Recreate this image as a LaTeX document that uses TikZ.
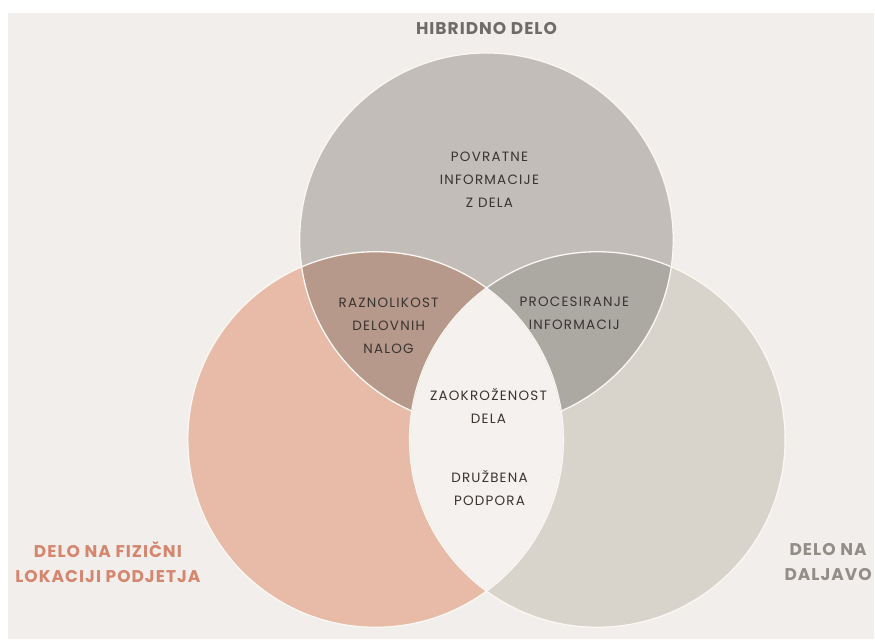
\documentclass[tikz,border=0pt]{standalone}
\usepackage{fontspec}
\setmainfont{Poppins}
\newfontfamily\siroko[LetterSpace=9]{Poppins}
\newfontfamily\sirokobf[LetterSpace=6]{Poppins Bold}
\usepackage{tikz}

\definecolor{bgcol}{HTML}{F1EEEB}
\definecolor{fizicno}{HTML}{E7BBA7}
\definecolor{hibrid}{HTML}{C2BDB9}
\definecolor{daljavo}{HTML}{D9D4CB}
\definecolor{fizhib}{HTML}{B6998B}
\definecolor{hibdal}{HTML}{ACA8A2}
\definecolor{skupno}{HTML}{F5F1EE}
\definecolor{obroba}{HTML}{FBF8F3}
\definecolor{txtdark}{HTML}{3A3431}
\definecolor{txttitle}{HTML}{6F6B69}
\definecolor{txtfiz}{HTML}{D5866E}
\definecolor{txtdal}{HTML}{928D87}

\tikzset{
  podrocje/.style={align=center, text=txtdark, font=\siroko\fontsize{13.5}{23}\selectfont},
  naslov/.style={align=center, font=\sirokobf\fontsize{17}{25}\selectfont},
}

\begin{document}
\begin{tikzpicture}[x=1pt, y=-1pt, line join=round]

                % ozadje
                \fill[white] (0,0) rectangle (875,640);
                \fill[bgcol] (8,13) rectangle (875,640);

                \coordinate (ctop) at (487,240);
                \coordinate (cleft) at (376,440);
                \coordinate (cright) at (598,440);

                % krogi
                \fill[fizicno] (cleft) circle[radius=188pt];
                \fill[daljavo] (cright) circle[radius=188pt];
                \fill[hibrid] (ctop) circle[radius=187pt];

                \begin{scope}
                  \clip (cleft) circle[radius=188pt];
                  \fill[fizhib] (ctop) circle[radius=187pt];
                \end{scope}
                \begin{scope}
                  \clip (cright) circle[radius=188pt];
                  \fill[hibdal] (ctop) circle[radius=187pt];
                \end{scope}

                \draw[obroba, line width=1.3pt] (cleft) circle[radius=188pt];
                \draw[obroba, line width=1.3pt] (cright) circle[radius=188pt];
                \draw[obroba, line width=1.3pt] (ctop) circle[radius=187pt];
                \begin{scope}
                  \clip (cleft) circle[radius=187.4pt];
                  \fill[skupno] (cright) circle[radius=187.4pt];
                \end{scope}

                % napisi
                \node[naslov, text=txttitle] (hibridno) at (487,29) {HIBRIDNO DELO};
                \node[naslov, text=txtfiz] (fizicni) at (108,563) {DELO NA FIZIČNI\\LOKACIJI PODJETJA};
                \node[naslov, text=txtdal] (dalj) at (829,563) {DELO NA\\DALJAVO};

                \node[podrocje] (povratne) at (490,180) {POVRATNE\\INFORMACIJE\\Z DELA};
                \node[podrocje] (raznolikost) at (389,326) {RAZNOLIKOST\\DELOVNIH\\NALOG};
                \node[podrocje] (procesiranje) at (575,314) {PROCESIRANJE\\INFORMACIJ};
                \node[podrocje] (zaokrozenost) at (489,406) {ZAOKROŽENOST\\DELA};
                \node[podrocje] (druzbena) at (490,489) {DRUŽBENA\\PODPORA};

\end{tikzpicture}
\end{document}
